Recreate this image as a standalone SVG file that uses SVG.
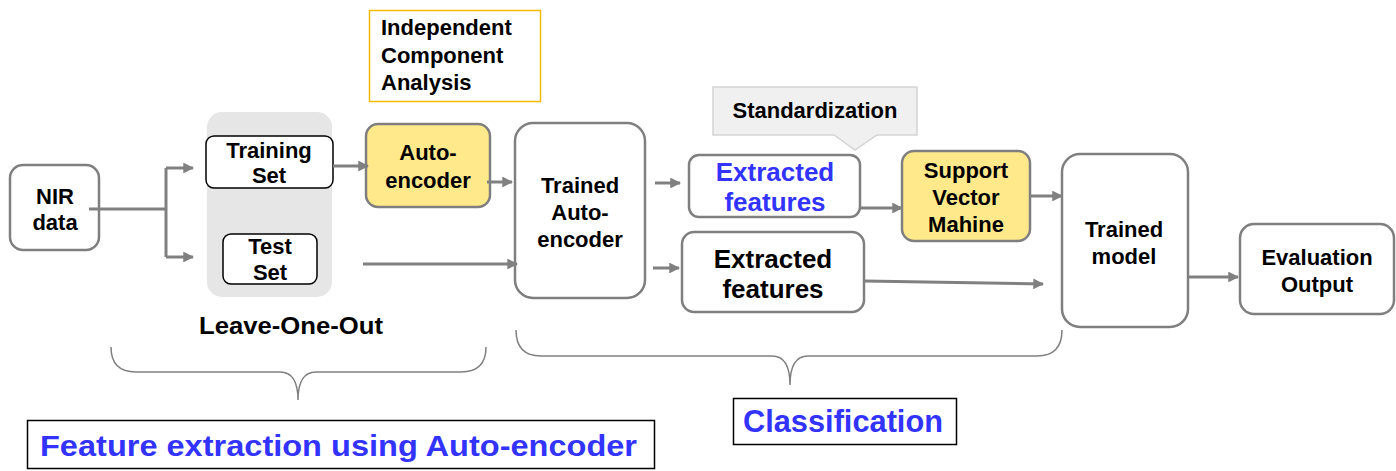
<svg xmlns="http://www.w3.org/2000/svg" width="1396" height="471" viewBox="0 0 1396 471">
  <style>
    text { font-family: "Liberation Sans", Arial, sans-serif; font-weight: bold; fill: #000; }
    .c { text-anchor: middle; }
    .box { fill: #fff; stroke: #7f7f7f; stroke-width: 2.5; }
    .sel { fill: #fff; stroke: #000; stroke-width: 1.5; }
    .hl { fill: #ffe98a; stroke: #7f7f7f; stroke-width: 2.5; }
    .t22 { font-size: 22px; }
    .t26 { font-size: 26px; }
    .blue { fill: #3333ff; }
    .wire { fill: none; stroke: #808080; stroke-width: 3; }
    .brace { fill: none; stroke: #808080; stroke-width: 1.5; }
  </style>
  <defs>
    <marker id="arr" viewBox="0 0 10 10" refX="9" refY="5" markerWidth="3.6" markerHeight="3.6" orient="auto" markerUnits="strokeWidth">
      <path d="M0,0 L10,5 L0,10 Z" fill="#808080"/>
    </marker>
  </defs>

  <rect width="1396" height="471" fill="#fff"/>

  <!-- Leave-One-Out split panel -->
  <g id="loo-panel">
    <rect x="207" y="112" width="125" height="185" rx="15" fill="#e6e6e6"/>
    <text class="c" x="291" y="334" style="font-size:23px" textLength="184" lengthAdjust="spacingAndGlyphs">Leave-One-Out</text>
  </g>

  <g id="ica">
    <rect x="369.5" y="10.5" width="171" height="91" fill="#fff" stroke="#f5b800" stroke-width="1.5"/>
    <text class="t22" x="381" y="35">Independent</text>
    <text class="t22" x="381" y="63">Component</text>
    <text class="t22" x="381" y="90">Analysis</text>
  </g>

  <g id="nir">
    <rect class="box" x="10" y="165" width="89" height="85" rx="13"/>
    <text class="c t22" x="55" y="204">NIR</text>
    <text class="c t22" x="55" y="230">data</text>
  </g>

  <g id="training-set">
    <rect class="sel" x="206" y="136" width="127" height="52" rx="8"/>
    <text class="c t22" x="269" y="158">Training</text>
    <text class="c t22" x="269" y="183">Set</text>
  </g>

  <g id="test-set">
    <rect class="sel" x="223" y="234" width="94" height="50" rx="8"/>
    <text class="c t22" x="270" y="254">Test</text>
    <text class="c t22" x="270" y="280">Set</text>
  </g>

  <g id="autoencoder">
    <rect class="hl" x="366" y="124" width="124" height="83" rx="12"/>
    <text class="c t22" x="428" y="160">Auto-</text>
    <text class="c t22" x="428" y="188">encoder</text>
  </g>

  <g id="trained-ae">
    <rect class="box" x="515" y="123" width="130" height="175" rx="18"/>
    <text class="c t22" x="580" y="193">Trained</text>
    <text class="c t22" x="580" y="220">Auto-</text>
    <text class="c t22" x="580" y="247">encoder</text>
  </g>

  <g id="standardization">
    <path d="M713,87 H917 V135 H877 L855,150 L834,135 H713 Z" fill="#f0f0f0" stroke="#d4d4d4" stroke-width="1.5"/>
    <text class="c t22" x="815" y="118">Standardization</text>
  </g>

  <g id="train-features">
    <rect class="box" x="689" y="155" width="171" height="62" rx="10"/>
    <text class="c t26 blue" x="775" y="181">Extracted</text>
    <text class="c t26 blue" x="775" y="211">features</text>
  </g>

  <g id="test-features">
    <rect class="box" x="682" y="232" width="182" height="80" rx="12"/>
    <text class="c t26" x="773" y="268">Extracted</text>
    <text class="c t26" x="773" y="298">features</text>
  </g>

  <g id="svm">
    <rect class="hl" x="902" y="151" width="128" height="90" rx="12"/>
    <text class="c t22" x="966" y="178">Support</text>
    <text class="c t22" x="966" y="205">Vector</text>
    <text class="c t22" x="966" y="232">Mahine</text>
  </g>

  <g id="trained-model">
    <rect class="box" x="1062" y="154" width="126" height="173" rx="18"/>
    <text class="c t22" x="1124" y="237">Trained</text>
    <text class="c t22" x="1124" y="264">model</text>
  </g>

  <g id="evaluation">
    <rect class="box" x="1240" y="224" width="154" height="90" rx="14"/>
    <text class="c t22" x="1317" y="265">Evaluation</text>
    <text class="c t22" x="1317" y="292">Output</text>
  </g>

  <g id="connectors">
    <path class="wire" d="M89,209 H166"/>
    <path class="wire" d="M166,257 V168"/>
    <path class="wire" d="M166,168 H193" marker-end="url(#arr)"/>
    <path class="wire" d="M166,257 H193" marker-end="url(#arr)"/>
    <path class="wire" d="M333,166 H368" marker-end="url(#arr)"/>
    <path class="wire" d="M487,182 H512" marker-end="url(#arr)"/>
    <path class="wire" d="M363,264 H517" marker-end="url(#arr)"/>
    <path class="wire" d="M655,183 H680" marker-end="url(#arr)"/>
    <path class="wire" d="M653,268 H679" marker-end="url(#arr)"/>
    <path class="wire" d="M860,208 H902" marker-end="url(#arr)"/>
    <path class="wire" d="M1030,196 H1062" marker-end="url(#arr)"/>
    <path class="wire" d="M864,281 L1043,284" marker-end="url(#arr)"/>
    <path class="wire" d="M1188,277 H1238" marker-end="url(#arr)"/>
  </g>

  <g id="feature-extraction">
    <path class="brace" d="M111,347 Q111,372 136,372 H280 Q298,372 298,400 Q298,372 316,372 H461 Q486,372 486,347"/>
    <rect x="27.5" y="420.5" width="627" height="48" fill="#fff" stroke="#000" stroke-width="1.5"/>
    <text class="blue" x="40" y="456" style="font-size:30px" textLength="597" lengthAdjust="spacingAndGlyphs">Feature extraction using Auto-encoder</text>
  </g>

  <g id="classification">
    <path class="brace" d="M516,330 Q516,356 541,356 H772 Q790,356 790,385 Q790,356 808,356 H1037 Q1062,356 1062,330"/>
    <rect x="733.5" y="398.5" width="223" height="46" fill="#fff" stroke="#000" stroke-width="1.5"/>
    <text class="c blue" x="843" y="432" style="font-size:31px" textLength="200" lengthAdjust="spacingAndGlyphs">Classification</text>
  </g>
</svg>
